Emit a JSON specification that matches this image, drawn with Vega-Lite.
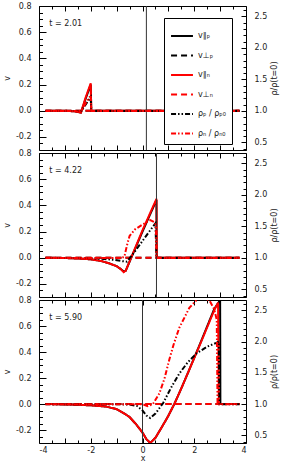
{
 "$schema": "https://vega.github.io/schema/vega-lite/v6.json",
 "padding": {"left": 2, "top": 1, "right": 2, "bottom": 0},
 "bounds": "flush",
 "spacing": 3,
 "config": {
  "view": {"stroke": "black", "strokeWidth": 1},
  "axis": {"labelFont": "DejaVu Sans", "labelFontSize": 8, "labelColor": "#222", "titleFont": "DejaVu Sans", "titleFontSize": 8, "titleFontWeight": "normal", "titleColor": "#222", "grid": false, "domain": false, "tickColor": "black", "tickWidth": 1},
  "legend": {"orient": "none", "legendX": 125, "legendY": 12, "title": null, "symbolType": "stroke", "symbolStrokeWidth": 2, "symbolSize": 480, "labelFont": "DejaVu Sans", "labelFontSize": 8, "labelColor": "#222", "strokeColor": "black", "fillColor": "white", "padding": 6, "rowPadding": 3.5, "labelOffset": 4}
 },
 "datasets": {
  "ann": [
   {"p": 1, "t": "t = 2.01", "xl": -3.6, "yl": 0.66, "xr": 0.15},
   {"p": 2, "t": "t = 4.22", "xl": -3.6, "yl": 0.66, "xr": 0.54},
   {"p": 3, "t": "t = 5.90", "xl": -3.6, "yl": 0.66, "xr": 0.0}
  ],
  "v": [
   {"p":1,"s":"v∥ₚ","x":-3.75,"y":0},{"p":1,"s":"v∥ₚ","x":-3,"y":0},{"p":1,"s":"v∥ₚ","x":-2.6,"y":-0.005},{"p":1,"s":"v∥ₚ","x":-2.38,"y":-0.015},{"p":1,"s":"v∥ₚ","x":-2.2,"y":0.09},{"p":1,"s":"v∥ₚ","x":-2.0,"y":0.2},{"p":1,"s":"v∥ₚ","x":-1.98,"y":0},{"p":1,"s":"v∥ₚ","x":3.75,"y":0},
   {"p":1,"s":"v⊥ₚ","x":-3.75,"y":0},{"p":1,"s":"v⊥ₚ","x":3.75,"y":0},
   {"p":1,"s":"v∥ₙ","x":-3.75,"y":0},{"p":1,"s":"v∥ₙ","x":-3,"y":0},{"p":1,"s":"v∥ₙ","x":-2.6,"y":-0.005},{"p":1,"s":"v∥ₙ","x":-2.38,"y":-0.015},{"p":1,"s":"v∥ₙ","x":-2.2,"y":0.1},{"p":1,"s":"v∥ₙ","x":-2.0,"y":0.21},{"p":1,"s":"v∥ₙ","x":-1.98,"y":0},{"p":1,"s":"v∥ₙ","x":3.75,"y":0},
   {"p":1,"s":"v⊥ₙ","x":-3.75,"y":0},{"p":1,"s":"v⊥ₙ","x":3.75,"y":0},

   {"p":2,"s":"v∥ₚ","x":-3.75,"y":0},{"p":2,"s":"v∥ₚ","x":-3,"y":-0.002},{"p":2,"s":"v∥ₚ","x":-2.5,"y":-0.006},{"p":2,"s":"v∥ₚ","x":-2,"y":-0.012},{"p":2,"s":"v∥ₚ","x":-1.6,"y":-0.025},{"p":2,"s":"v∥ₚ","x":-1.3,"y":-0.042},{"p":2,"s":"v∥ₚ","x":-1,"y":-0.065},{"p":2,"s":"v∥ₚ","x":-0.85,"y":-0.085},{"p":2,"s":"v∥ₚ","x":-0.73,"y":-0.105},{"p":2,"s":"v∥ₚ","x":-0.65,"y":-0.1},{"p":2,"s":"v∥ₚ","x":0,"y":0.2},{"p":2,"s":"v∥ₚ","x":0.54,"y":0.44},{"p":2,"s":"v∥ₚ","x":0.55,"y":0},{"p":2,"s":"v∥ₚ","x":3.75,"y":0},
   {"p":2,"s":"v⊥ₚ","x":-3.75,"y":0},{"p":2,"s":"v⊥ₚ","x":3.75,"y":0},
   {"p":2,"s":"v∥ₙ","x":-3.75,"y":0},{"p":2,"s":"v∥ₙ","x":-3,"y":-0.002},{"p":2,"s":"v∥ₙ","x":-2.5,"y":-0.006},{"p":2,"s":"v∥ₙ","x":-2,"y":-0.012},{"p":2,"s":"v∥ₙ","x":-1.6,"y":-0.025},{"p":2,"s":"v∥ₙ","x":-1.3,"y":-0.042},{"p":2,"s":"v∥ₙ","x":-1,"y":-0.065},{"p":2,"s":"v∥ₙ","x":-0.85,"y":-0.085},{"p":2,"s":"v∥ₙ","x":-0.73,"y":-0.11},{"p":2,"s":"v∥ₙ","x":-0.65,"y":-0.1},{"p":2,"s":"v∥ₙ","x":0,"y":0.21},{"p":2,"s":"v∥ₙ","x":0.54,"y":0.45},{"p":2,"s":"v∥ₙ","x":0.55,"y":0},{"p":2,"s":"v∥ₙ","x":3.75,"y":0},
   {"p":2,"s":"v⊥ₙ","x":-3.75,"y":0},{"p":2,"s":"v⊥ₙ","x":3.75,"y":0},

   {"p":3,"s":"v∥ₚ","x":-3.75,"y":0},{"p":3,"s":"v∥ₚ","x":-3,"y":-0.003},{"p":3,"s":"v∥ₚ","x":-2.5,"y":-0.006},{"p":3,"s":"v∥ₚ","x":-2,"y":-0.01},{"p":3,"s":"v∥ₚ","x":-1.4,"y":-0.02},{"p":3,"s":"v∥ₚ","x":-1,"y":-0.04},{"p":3,"s":"v∥ₚ","x":-0.73,"y":-0.07},{"p":3,"s":"v∥ₚ","x":-0.5,"y":-0.1},{"p":3,"s":"v∥ₚ","x":-0.23,"y":-0.16},{"p":3,"s":"v∥ₚ","x":0,"y":-0.22},{"p":3,"s":"v∥ₚ","x":0.15,"y":-0.27},{"p":3,"s":"v∥ₚ","x":0.3,"y":-0.3},{"p":3,"s":"v∥ₚ","x":0.5,"y":-0.26},{"p":3,"s":"v∥ₚ","x":0.8,"y":-0.16},{"p":3,"s":"v∥ₚ","x":1,"y":-0.09},{"p":3,"s":"v∥ₚ","x":1.23,"y":0},{"p":3,"s":"v∥ₚ","x":1.5,"y":0.12},{"p":3,"s":"v∥ₚ","x":1.77,"y":0.246},{"p":3,"s":"v∥ₚ","x":2.27,"y":0.485},{"p":3,"s":"v∥ₚ","x":2.77,"y":0.73},{"p":3,"s":"v∥ₚ","x":3.0,"y":0.8},{"p":3,"s":"v∥ₚ","x":3.01,"y":0},{"p":3,"s":"v∥ₚ","x":3.75,"y":0},
   {"p":3,"s":"v⊥ₚ","x":-3.75,"y":0},{"p":3,"s":"v⊥ₚ","x":3.75,"y":0},
   {"p":3,"s":"v∥ₙ","x":-3.75,"y":0},{"p":3,"s":"v∥ₙ","x":-3,"y":-0.003},{"p":3,"s":"v∥ₙ","x":-2.5,"y":-0.006},{"p":3,"s":"v∥ₙ","x":-2,"y":-0.01},{"p":3,"s":"v∥ₙ","x":-1.4,"y":-0.02},{"p":3,"s":"v∥ₙ","x":-1,"y":-0.04},{"p":3,"s":"v∥ₙ","x":-0.73,"y":-0.07},{"p":3,"s":"v∥ₙ","x":-0.5,"y":-0.1},{"p":3,"s":"v∥ₙ","x":-0.23,"y":-0.16},{"p":3,"s":"v∥ₙ","x":0,"y":-0.22},{"p":3,"s":"v∥ₙ","x":0.15,"y":-0.27},{"p":3,"s":"v∥ₙ","x":0.3,"y":-0.3},{"p":3,"s":"v∥ₙ","x":0.5,"y":-0.26},{"p":3,"s":"v∥ₙ","x":0.8,"y":-0.16},{"p":3,"s":"v∥ₙ","x":1,"y":-0.09},{"p":3,"s":"v∥ₙ","x":1.23,"y":0},{"p":3,"s":"v∥ₙ","x":1.5,"y":0.12},{"p":3,"s":"v∥ₙ","x":1.77,"y":0.246},{"p":3,"s":"v∥ₙ","x":2.27,"y":0.48},{"p":3,"s":"v∥ₙ","x":2.77,"y":0.72},{"p":3,"s":"v∥ₙ","x":2.92,"y":0.78},{"p":3,"s":"v∥ₙ","x":2.95,"y":0},{"p":3,"s":"v∥ₙ","x":3.75,"y":0},
   {"p":3,"s":"v⊥ₙ","x":-3.75,"y":0},{"p":3,"s":"v⊥ₙ","x":3.75,"y":0}
  ],
  "r": [
   {"p":1,"s":"ρₚ / ρₚ₀","x":-3.75,"r":1},{"p":1,"s":"ρₚ / ρₚ₀","x":-2.6,"r":1},{"p":1,"s":"ρₚ / ρₚ₀","x":-2.38,"r":0.99},{"p":1,"s":"ρₚ / ρₚ₀","x":-2.2,"r":1.1},{"p":1,"s":"ρₚ / ρₚ₀","x":-2.0,"r":1.22},{"p":1,"s":"ρₚ / ρₚ₀","x":-1.98,"r":1},{"p":1,"s":"ρₚ / ρₚ₀","x":3.75,"r":1},
   {"p":1,"s":"ρₙ / ρₙ₀","x":-3.75,"r":1},{"p":1,"s":"ρₙ / ρₙ₀","x":-2.6,"r":1},{"p":1,"s":"ρₙ / ρₙ₀","x":-2.38,"r":0.98},{"p":1,"s":"ρₙ / ρₙ₀","x":-2.2,"r":1.12},{"p":1,"s":"ρₙ / ρₙ₀","x":-2.0,"r":1.25},{"p":1,"s":"ρₙ / ρₙ₀","x":-1.98,"r":1},{"p":1,"s":"ρₙ / ρₙ₀","x":3.75,"r":1},

   {"p":2,"s":"ρₚ / ρₚ₀","x":-3.75,"r":1},{"p":2,"s":"ρₚ / ρₚ₀","x":-2.5,"r":1},{"p":2,"s":"ρₚ / ρₚ₀","x":-2,"r":0.995},{"p":2,"s":"ρₚ / ρₚ₀","x":-1.5,"r":0.985},{"p":2,"s":"ρₚ / ρₚ₀","x":-1.1,"r":0.97},{"p":2,"s":"ρₚ / ρₚ₀","x":-0.8,"r":0.95},{"p":2,"s":"ρₚ / ρₚ₀","x":-0.6,"r":0.94},{"p":2,"s":"ρₚ / ρₚ₀","x":-0.3,"r":1.1},{"p":2,"s":"ρₚ / ρₚ₀","x":0,"r":1.27},{"p":2,"s":"ρₚ / ρₚ₀","x":0.3,"r":1.44},{"p":2,"s":"ρₚ / ρₚ₀","x":0.5,"r":1.55},{"p":2,"s":"ρₚ / ρₚ₀","x":0.54,"r":1},{"p":2,"s":"ρₚ / ρₚ₀","x":3.75,"r":1},
   {"p":2,"s":"ρₙ / ρₙ₀","x":-3.75,"r":1},{"p":2,"s":"ρₙ / ρₙ₀","x":-0.8,"r":1},{"p":2,"s":"ρₙ / ρₙ₀","x":-0.7,"r":1.02},{"p":2,"s":"ρₙ / ρₙ₀","x":-0.6,"r":1.2},{"p":2,"s":"ρₙ / ρₙ₀","x":-0.5,"r":1.35},{"p":2,"s":"ρₙ / ρₙ₀","x":-0.3,"r":1.45},{"p":2,"s":"ρₙ / ρₙ₀","x":0,"r":1.53},{"p":2,"s":"ρₙ / ρₙ₀","x":0.3,"r":1.6},{"p":2,"s":"ρₙ / ρₙ₀","x":0.45,"r":1.57},{"p":2,"s":"ρₙ / ρₙ₀","x":0.52,"r":1.52},{"p":2,"s":"ρₙ / ρₙ₀","x":0.54,"r":1},{"p":2,"s":"ρₙ / ρₙ₀","x":3.75,"r":1},

   {"p":3,"s":"ρₚ / ρₚ₀","x":-3.75,"r":1},{"p":3,"s":"ρₚ / ρₚ₀","x":-1,"r":1},{"p":3,"s":"ρₚ / ρₚ₀","x":-0.5,"r":0.995},{"p":3,"s":"ρₚ / ρₚ₀","x":-0.2,"r":0.97},{"p":3,"s":"ρₚ / ρₚ₀","x":0,"r":0.9},{"p":3,"s":"ρₚ / ρₚ₀","x":0.15,"r":0.82},{"p":3,"s":"ρₚ / ρₚ₀","x":0.3,"r":0.78},{"p":3,"s":"ρₚ / ρₚ₀","x":0.5,"r":0.85},{"p":3,"s":"ρₚ / ρₚ₀","x":0.8,"r":1.02},{"p":3,"s":"ρₚ / ρₚ₀","x":1.1,"r":1.26},{"p":3,"s":"ρₚ / ρₚ₀","x":1.42,"r":1.49},{"p":3,"s":"ρₚ / ρₚ₀","x":1.75,"r":1.67},{"p":3,"s":"ρₚ / ρₚ₀","x":2.08,"r":1.81},{"p":3,"s":"ρₚ / ρₚ₀","x":2.5,"r":1.92},{"p":3,"s":"ρₚ / ρₚ₀","x":2.85,"r":1.98},{"p":3,"s":"ρₚ / ρₚ₀","x":2.95,"r":2.0},{"p":3,"s":"ρₚ / ρₚ₀","x":2.97,"r":1},{"p":3,"s":"ρₚ / ρₚ₀","x":3.75,"r":1},
   {"p":3,"s":"ρₙ / ρₙ₀","x":-3.75,"r":1},{"p":3,"s":"ρₙ / ρₙ₀","x":-1,"r":1},{"p":3,"s":"ρₙ / ρₙ₀","x":0,"r":1},{"p":3,"s":"ρₙ / ρₙ₀","x":0.2,"r":0.97},{"p":3,"s":"ρₙ / ρₙ₀","x":0.4,"r":1.0},{"p":3,"s":"ρₙ / ρₙ₀","x":0.65,"r":1.17},{"p":3,"s":"ρₙ / ρₙ₀","x":0.85,"r":1.41},{"p":3,"s":"ρₙ / ρₙ₀","x":1.04,"r":1.72},{"p":3,"s":"ρₙ / ρₙ₀","x":1.2,"r":1.95},{"p":3,"s":"ρₙ / ρₙ₀","x":1.42,"r":2.22},{"p":3,"s":"ρₙ / ρₙ₀","x":1.81,"r":2.54},{"p":3,"s":"ρₙ / ρₙ₀","x":2.1,"r":2.67},{"p":3,"s":"ρₙ / ρₙ₀","x":2.35,"r":2.72},{"p":3,"s":"ρₙ / ρₙ₀","x":2.6,"r":2.65},{"p":3,"s":"ρₙ / ρₙ₀","x":2.77,"r":2.52},{"p":3,"s":"ρₙ / ρₙ₀","x":2.87,"r":2.35},{"p":3,"s":"ρₙ / ρₙ₀","x":2.9,"r":1},{"p":3,"s":"ρₙ / ρₙ₀","x":3.75,"r":1}
  ]
 },
 "vconcat": [
  {
   "width": 207, "height": 144,
   "layer": [
    {"data": {"name": "v"}, "transform": [{"filter": "datum.p == 1"}],
     "mark": {"type": "line", "strokeWidth": 2, "clip": true},
     "encoding": {
      "x": {"field": "x", "type": "quantitative", "scale": {"domain": [-4, 4], "nice": false, "zero": false}, "axis": {"orient": "bottom", "values": [-4,-3,-2,-1,0,1,2,3,4], "tickSize": -5, "labels": false, "title": null}},
      "y": {"field": "y", "type": "quantitative", "scale": {"domain": [-0.3, 0.8], "nice": false, "zero": false}, "axis": {"orient": "left", "values": [-0.2,0,0.2,0.4,0.6,0.8], "tickSize": -7, "labelPadding": 15, "labelExpr": "replace(format(datum.value,'.1f'),'\u2212','-')", "title": "v", "titlePadding": 4}},
      "color": {"field": "s", "type": "nominal", "scale": {"domain": ["v∥ₚ","v⊥ₚ","v∥ₙ","v⊥ₙ","ρₚ / ρₚ₀","ρₙ / ρₙ₀"], "range": ["black","black","#ff0000","#ff0000","black","#ff0000"]}},
      "strokeDash": {"field": "s", "type": "nominal", "scale": {"domain": ["v∥ₚ","v⊥ₚ","v∥ₙ","v⊥ₙ","ρₚ / ρₚ₀","ρₙ / ρₙ₀"], "range": [[1,0],[6,4],[1,0],[6,4],[5,2,1.5,2,1.5,2],[5,2,1.5,2,1.5,2]]}}
     }},
    {"data": {"name": "ann"}, "transform": [{"filter": "datum.p == 1"}],
     "mark": {"type": "rule", "color": "#333", "strokeWidth": 1},
     "encoding": {"x": {"field": "xr", "type": "quantitative", "scale": {"domain": [-4, 4], "nice": false, "zero": false}, "axis": {"orient": "top", "values": [-4,-3,-2,-1,0,1,2,3,4], "tickSize": -5, "labels": false, "title": null}}}},
    {"data": {"name": "ann"}, "transform": [{"filter": "datum.p == 1"}],
     "mark": {"type": "text", "align": "left", "baseline": "middle", "font": "DejaVu Sans", "fontSize": 8, "color": "#222"},
     "encoding": {
      "x": {"field": "xl", "type": "quantitative", "scale": {"domain": [-4, 4], "nice": false, "zero": false}, "axis": {"orient": "bottom", "values": [-3.5,-2.5,-1.5,-0.5,0.5,1.5,2.5,3.5], "tickSize": -3, "labels": false, "title": null}},
      "y": {"field": "yl", "type": "quantitative", "scale": {"domain": [-0.3, 0.8], "nice": false, "zero": false}, "axis": {"orient": "left", "values": [-0.25,-0.15,-0.1,-0.05,0.05,0.1,0.15,0.25,0.3,0.35,0.45,0.5,0.55,0.65,0.7,0.75], "tickSize": -3.5, "labels": false, "title": null}},
      "text": {"field": "t"}
     }},
    {"data": {"name": "r"}, "transform": [{"filter": "datum.p == 1 && datum.s == 'ρₚ / ρₚ₀'"}],
     "mark": {"type": "line", "strokeWidth": 2, "clip": true},
     "encoding": {
      "x": {"field": "x", "type": "quantitative", "scale": {"domain": [-4, 4], "nice": false, "zero": false}, "axis": {"orient": "top", "values": [-3.5,-2.5,-1.5,-0.5,0.5,1.5,2.5,3.5], "tickSize": -3, "labels": false, "title": null}},
      "y": {"field": "r", "type": "quantitative", "scale": {"domain": [0.38, 2.666], "nice": false, "zero": false}, "axis": {"orient": "right", "values": [0.5,1,1.5,2,2.5], "format": ".1f", "tickSize": -5, "labelPadding": 13, "title": "ρ/ρ(t=0)", "titleAngle": 270, "titleBaseline": "top", "titlePadding": 4}},
      "color": {"field": "s", "type": "nominal"},
      "strokeDash": {"field": "s", "type": "nominal"}
     }},
    {"data": {"name": "r"}, "transform": [{"filter": "datum.p == 1 && datum.s == 'ρₙ / ρₙ₀'"}],
     "mark": {"type": "line", "strokeWidth": 2, "clip": true},
     "encoding": {
      "x": {"field": "x", "type": "quantitative", "scale": {"domain": [-4, 4], "nice": false, "zero": false}, "axis": null},
      "y": {"field": "r", "type": "quantitative", "scale": {"domain": [0.38, 2.666], "nice": false, "zero": false}, "axis": {"orient": "right", "values": [0.4,0.6,0.7,0.8,0.9,1.1,1.2,1.3,1.4,1.6,1.7,1.8,1.9,2.1,2.2,2.3,2.4,2.6], "tickSize": -3, "labels": false, "title": null}},
      "color": {"field": "s", "type": "nominal"},
      "strokeDash": {"field": "s", "type": "nominal"}
     }}
   ],
   "resolve": {"scale": {"y": "independent"}, "axis": {"x": "independent", "y": "independent"}}
  },
  {
   "width": 207, "height": 144,
   "layer": [
    {"data": {"name": "v"}, "transform": [{"filter": "datum.p == 2"}],
     "mark": {"type": "line", "strokeWidth": 2, "clip": true},
     "encoding": {
      "x": {"field": "x", "type": "quantitative", "scale": {"domain": [-4, 4], "nice": false, "zero": false}, "axis": {"orient": "bottom", "values": [-4,-3,-2,-1,0,1,2,3,4], "tickSize": -5, "labels": false, "title": null}},
      "y": {"field": "y", "type": "quantitative", "scale": {"domain": [-0.3, 0.8], "nice": false, "zero": false}, "axis": {"orient": "left", "values": [-0.2,0,0.2,0.4,0.6,0.8], "tickSize": -7, "labelPadding": 15, "labelExpr": "replace(format(datum.value,'.1f'),'\u2212','-')", "title": "v", "titlePadding": 4}},
      "color": {"field": "s", "type": "nominal"},
      "strokeDash": {"field": "s", "type": "nominal"}
     }},
    {"data": {"name": "ann"}, "transform": [{"filter": "datum.p == 2"}],
     "mark": {"type": "rule", "color": "#333", "strokeWidth": 1},
     "encoding": {"x": {"field": "xr", "type": "quantitative", "scale": {"domain": [-4, 4], "nice": false, "zero": false}, "axis": {"orient": "top", "values": [-4,-3,-2,-1,0,1,2,3,4], "tickSize": -5, "labels": false, "title": null}}}},
    {"data": {"name": "ann"}, "transform": [{"filter": "datum.p == 2"}],
     "mark": {"type": "text", "align": "left", "baseline": "middle", "font": "DejaVu Sans", "fontSize": 8, "color": "#222"},
     "encoding": {
      "x": {"field": "xl", "type": "quantitative", "scale": {"domain": [-4, 4], "nice": false, "zero": false}, "axis": {"orient": "bottom", "values": [-3.5,-2.5,-1.5,-0.5,0.5,1.5,2.5,3.5], "tickSize": -3, "labels": false, "title": null}},
      "y": {"field": "yl", "type": "quantitative", "scale": {"domain": [-0.3, 0.8], "nice": false, "zero": false}, "axis": {"orient": "left", "values": [-0.25,-0.15,-0.1,-0.05,0.05,0.1,0.15,0.25,0.3,0.35,0.45,0.5,0.55,0.65,0.7,0.75], "tickSize": -3.5, "labels": false, "title": null}},
      "text": {"field": "t"}
     }},
    {"data": {"name": "r"}, "transform": [{"filter": "datum.p == 2 && datum.s == 'ρₚ / ρₚ₀'"}],
     "mark": {"type": "line", "strokeWidth": 2, "clip": true},
     "encoding": {
      "x": {"field": "x", "type": "quantitative", "scale": {"domain": [-4, 4], "nice": false, "zero": false}, "axis": {"orient": "top", "values": [-3.5,-2.5,-1.5,-0.5,0.5,1.5,2.5,3.5], "tickSize": -3, "labels": false, "title": null}},
      "y": {"field": "r", "type": "quantitative", "scale": {"domain": [0.38, 2.666], "nice": false, "zero": false}, "axis": {"orient": "right", "values": [0.5,1,1.5,2,2.5], "format": ".1f", "tickSize": -5, "labelPadding": 13, "title": "ρ/ρ(t=0)", "titleAngle": 270, "titleBaseline": "top", "titlePadding": 4}},
      "color": {"field": "s", "type": "nominal"},
      "strokeDash": {"field": "s", "type": "nominal"}
     }},
    {"data": {"name": "r"}, "transform": [{"filter": "datum.p == 2 && datum.s == 'ρₙ / ρₙ₀'"}],
     "mark": {"type": "line", "strokeWidth": 2, "clip": true},
     "encoding": {
      "x": {"field": "x", "type": "quantitative", "scale": {"domain": [-4, 4], "nice": false, "zero": false}, "axis": null},
      "y": {"field": "r", "type": "quantitative", "scale": {"domain": [0.38, 2.666], "nice": false, "zero": false}, "axis": {"orient": "right", "values": [0.4,0.6,0.7,0.8,0.9,1.1,1.2,1.3,1.4,1.6,1.7,1.8,1.9,2.1,2.2,2.3,2.4,2.6], "tickSize": -3, "labels": false, "title": null}},
      "color": {"field": "s", "type": "nominal"},
      "strokeDash": {"field": "s", "type": "nominal"}
     }}
   ],
   "resolve": {"scale": {"y": "independent"}, "axis": {"x": "independent", "y": "independent"}}
  },
  {
   "width": 207, "height": 143,
   "layer": [
    {"data": {"name": "v"}, "transform": [{"filter": "datum.p == 3"}],
     "mark": {"type": "line", "strokeWidth": 2, "clip": true},
     "encoding": {
      "x": {"field": "x", "type": "quantitative", "scale": {"domain": [-4, 4], "nice": false, "zero": false}, "axis": {"orient": "bottom", "values": [-4,-3,-2,-1,0,1,2,3,4], "tickSize": -5, "labelPadding": 8, "labelExpr": "datum.value % 2 == 0 ? replace(format(datum.value,'d'),'\u2212','-') : ''", "title": "x", "titlePadding": 0}},
      "y": {"field": "y", "type": "quantitative", "scale": {"domain": [-0.3, 0.8], "nice": false, "zero": false}, "axis": {"orient": "left", "values": [-0.2,0,0.2,0.4,0.6,0.8], "tickSize": -7, "labelPadding": 15, "labelExpr": "replace(format(datum.value,'.1f'),'\u2212','-')", "title": "v", "titlePadding": 4}},
      "color": {"field": "s", "type": "nominal"},
      "strokeDash": {"field": "s", "type": "nominal"}
     }},
    {"data": {"name": "ann"}, "transform": [{"filter": "datum.p == 3"}],
     "mark": {"type": "rule", "color": "#333", "strokeWidth": 1},
     "encoding": {"x": {"field": "xr", "type": "quantitative", "scale": {"domain": [-4, 4], "nice": false, "zero": false}, "axis": {"orient": "top", "values": [-4,-3,-2,-1,0,1,2,3,4], "tickSize": -5, "labels": false, "title": null}}}},
    {"data": {"name": "ann"}, "transform": [{"filter": "datum.p == 3"}],
     "mark": {"type": "text", "align": "left", "baseline": "middle", "font": "DejaVu Sans", "fontSize": 8, "color": "#222"},
     "encoding": {
      "x": {"field": "xl", "type": "quantitative", "scale": {"domain": [-4, 4], "nice": false, "zero": false}, "axis": {"orient": "bottom", "values": [-3.5,-2.5,-1.5,-0.5,0.5,1.5,2.5,3.5], "tickSize": -3, "labels": false, "title": null}},
      "y": {"field": "yl", "type": "quantitative", "scale": {"domain": [-0.3, 0.8], "nice": false, "zero": false}, "axis": {"orient": "left", "values": [-0.25,-0.15,-0.1,-0.05,0.05,0.1,0.15,0.25,0.3,0.35,0.45,0.5,0.55,0.65,0.7,0.75], "tickSize": -3.5, "labels": false, "title": null}},
      "text": {"field": "t"}
     }},
    {"data": {"name": "r"}, "transform": [{"filter": "datum.p == 3 && datum.s == 'ρₚ / ρₚ₀'"}],
     "mark": {"type": "line", "strokeWidth": 2, "clip": true},
     "encoding": {
      "x": {"field": "x", "type": "quantitative", "scale": {"domain": [-4, 4], "nice": false, "zero": false}, "axis": {"orient": "top", "values": [-3.5,-2.5,-1.5,-0.5,0.5,1.5,2.5,3.5], "tickSize": -3, "labels": false, "title": null}},
      "y": {"field": "r", "type": "quantitative", "scale": {"domain": [0.38, 2.666], "nice": false, "zero": false}, "axis": {"orient": "right", "values": [0.5,1,1.5,2,2.5], "format": ".1f", "tickSize": -5, "labelPadding": 13, "title": "ρ/ρ(t=0)", "titleAngle": 270, "titleBaseline": "top", "titlePadding": 4}},
      "color": {"field": "s", "type": "nominal"},
      "strokeDash": {"field": "s", "type": "nominal"}
     }},
    {"data": {"name": "r"}, "transform": [{"filter": "datum.p == 3 && datum.s == 'ρₙ / ρₙ₀'"}],
     "mark": {"type": "line", "strokeWidth": 2, "clip": true},
     "encoding": {
      "x": {"field": "x", "type": "quantitative", "scale": {"domain": [-4, 4], "nice": false, "zero": false}, "axis": null},
      "y": {"field": "r", "type": "quantitative", "scale": {"domain": [0.38, 2.666], "nice": false, "zero": false}, "axis": {"orient": "right", "values": [0.4,0.6,0.7,0.8,0.9,1.1,1.2,1.3,1.4,1.6,1.7,1.8,1.9,2.1,2.2,2.3,2.4,2.6], "tickSize": -3, "labels": false, "title": null}},
      "color": {"field": "s", "type": "nominal"},
      "strokeDash": {"field": "s", "type": "nominal"}
     }}
   ],
   "resolve": {"scale": {"y": "independent"}, "axis": {"x": "independent", "y": "independent"}}
  }
 ]
}
